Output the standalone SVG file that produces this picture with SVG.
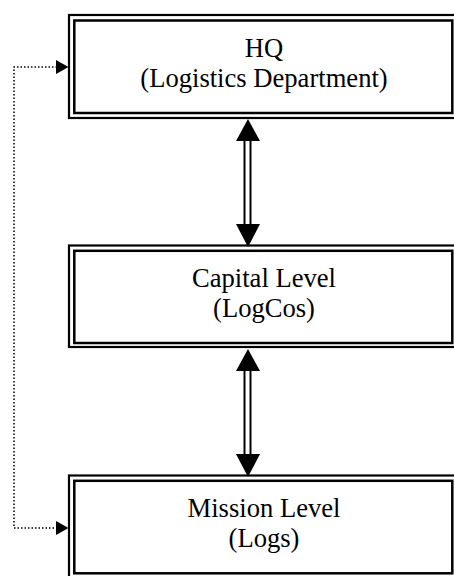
<svg xmlns="http://www.w3.org/2000/svg" width="454" height="576" viewBox="0 0 454 576">
<style>
.outer{fill:none;stroke:#000;stroke-width:2.2}
.inner{fill:#fff;stroke:#000;stroke-width:2.5}
.lbl{font-family:"Liberation Serif","Times New Roman",serif;font-size:26.6px;fill:#000;text-anchor:middle}
.shaft{stroke:#000;stroke-width:2;fill:none}
.head{fill:#000}
.dot{fill:none;stroke:#000;stroke-width:1.5;stroke-dasharray:1.5 2}
</style>
<rect width="454" height="576" fill="#fff"/>
<g id="hq">
<rect class="outer" x="69" y="15" width="390" height="103"/>
<rect class="inner" x="74.3" y="20.5" width="378" height="92.5"/>
<text class="lbl" x="264" y="57">HQ</text>
<text class="lbl" x="264" y="87">(Logistics Department)</text>
</g>
<g id="capital">
<rect class="outer" x="69" y="245.5" width="390" height="101.5"/>
<rect class="inner" x="74.3" y="250.8" width="378" height="92.2"/>
<text class="lbl" x="264" y="287">Capital Level</text>
<text class="lbl" x="264" y="317">(LogCos)</text>
</g>
<g id="mission">
<rect class="outer" x="69" y="475.5" width="390" height="104"/>
<rect class="inner" x="74.3" y="480.8" width="378" height="92.5"/>
<text class="lbl" x="264" y="517">Mission Level</text>
<text class="lbl" x="264" y="547">(Logs)</text>
</g>
<g id="connectors">
<line class="shaft" x1="244.5" y1="138" x2="244.5" y2="226"/>
<line class="shaft" x1="250.5" y1="138" x2="250.5" y2="226"/>
<polygon class="head" points="248,119 236,141 260,141"/>
<polygon class="head" points="248,247 236,224 260,224"/>
<line class="shaft" x1="244.5" y1="368" x2="244.5" y2="456"/>
<line class="shaft" x1="250.5" y1="368" x2="250.5" y2="456"/>
<polygon class="head" points="248,349 236,371 260,371"/>
<polygon class="head" points="248,477 236,454 260,454"/>
<path class="dot" d="M57 67 H14 V528 H57"/>
<polygon class="head" points="68.5,67 56,60 56,74"/>
<polygon class="head" points="68.5,528 56,521 56,535"/>
</g>
</svg>
